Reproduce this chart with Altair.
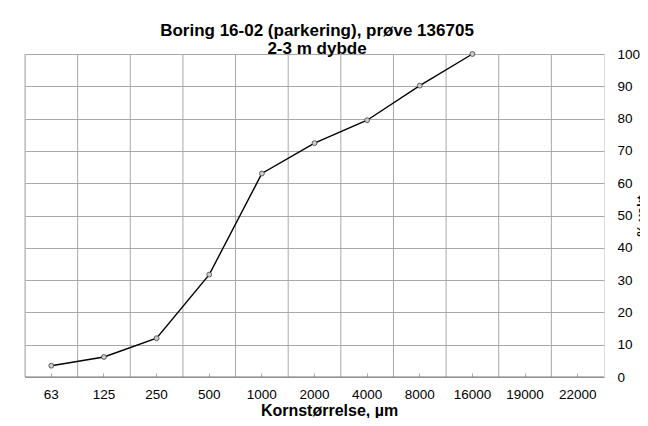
import altair as alt
import pandas as pd

# Categories on the x axis (grain size, µm)
sizes = ["63", "125", "250", "500", "1000", "2000", "4000", "8000", "16000", "19000", "22000"]
# Measured sizes and cumulative percent by weight
measured = ["63", "125", "250", "500", "1000", "2000", "4000", "8000", "16000"]
percent = [3.5, 6.2, 12.0, 31.7, 63.0, 72.4, 79.5, 90.2, 100.0]
y_ticks = [0, 10, 20, 30, 40, 50, 60, 70, 80, 90, 100]

title_lines = ["Boring 16-02 (parkering), prøve 136705", "2-3 m dybde"]
x_title = "Kornstørrelse, µm"
y_title = "% vekt"

df = pd.DataFrame({"size": measured, "pct": percent})
cats = pd.DataFrame({"size": sizes})
base_val = pd.DataFrame({"pct": [0]})

FONT = "Liberation Sans"
GRID = "#a8a8a8"

xscale = alt.Scale(type="band", domain=sizes, paddingInner=0, paddingOuter=0)
yscale = alt.Scale(domain=[0, 100], nice=False)

x_axis = alt.Axis(
    orient="bottom",
    offset=-4,
    grid=False,
    ticks=True,
    tickSize=4,
    tickColor=GRID,
    domain=False,
    labelAngle=0,
    labelPadding=10,
    labelFont=FONT,
    labelFontSize=13.5,
    labelColor="#000000",
    title=x_title,
    titleFont=FONT,
    titleFontSize=16,
    titleFontWeight="bold",
    titleColor="#000000",
    titleX=304,
    titleY=42.5,
    titleAlign="center",
    titleBaseline="alphabetic",
)

y_axis = alt.Axis(
    orient="right",
    values=y_ticks,
    grid=True,
    gridColor=GRID,
    domain=False,
    ticks=False,
    labelPadding=13,
    labelFont=FONT,
    labelFontSize=13.5,
    labelColor="#000000",
    title=y_title,
    titleFont=FONT,
    titleFontSize=13,
    titleFontWeight="bold",
    titleColor="#000000",
    titleAngle=270,
    titleX=31,
    titleY=161.5,
    titleAlign="center",
    titleBaseline="top",
)

x_enc = alt.X("size:N", sort=sizes, scale=xscale, axis=x_axis)
y_enc = alt.Y("pct:Q", scale=yscale, axis=y_axis)

# vertical gridlines at the category boundaries
vgrid = alt.Chart(cats).mark_rule(color=GRID, strokeWidth=1).encode(
    x=alt.X("size:N", sort=sizes, scale=xscale, axis=x_axis, bandPosition=0)
)

# darker baseline at 0 %
baseline = alt.Chart(base_val).mark_rule(color="#7a7a7a", strokeWidth=1.2).encode(
    y=y_enc
)

line = alt.Chart(df).mark_line(color="#000000", strokeWidth=1.4).encode(
    x=x_enc, y=y_enc
)

points = alt.Chart(df).mark_point(
    filled=True, fill="#cccccc", stroke="#404040", strokeWidth=0.8, size=24, opacity=1
).encode(x=x_enc, y=y_enc)

chart = (
    alt.layer(vgrid, baseline, line, points)
    .properties(
        width=579,
        height=323,
        autosize=alt.AutoSizeParams(type="none"),
        padding={"left": 17, "top": 46, "right": 36, "bottom": 41},
        title=alt.TitleParams(
            title_lines,
            font=FONT,
            fontSize=17,
            fontWeight="bold",
            color="#000000",
            anchor="middle",
            dx=2.5,
            dy=11,
            lineHeight=18.5,
            offset=0,
        ),
    )
    .configure_view(stroke=GRID, strokeWidth=1)
    .configure(background="#ffffff")
)

chart.save("out.html", embed_options={"renderer": "svg", "actions": False})
